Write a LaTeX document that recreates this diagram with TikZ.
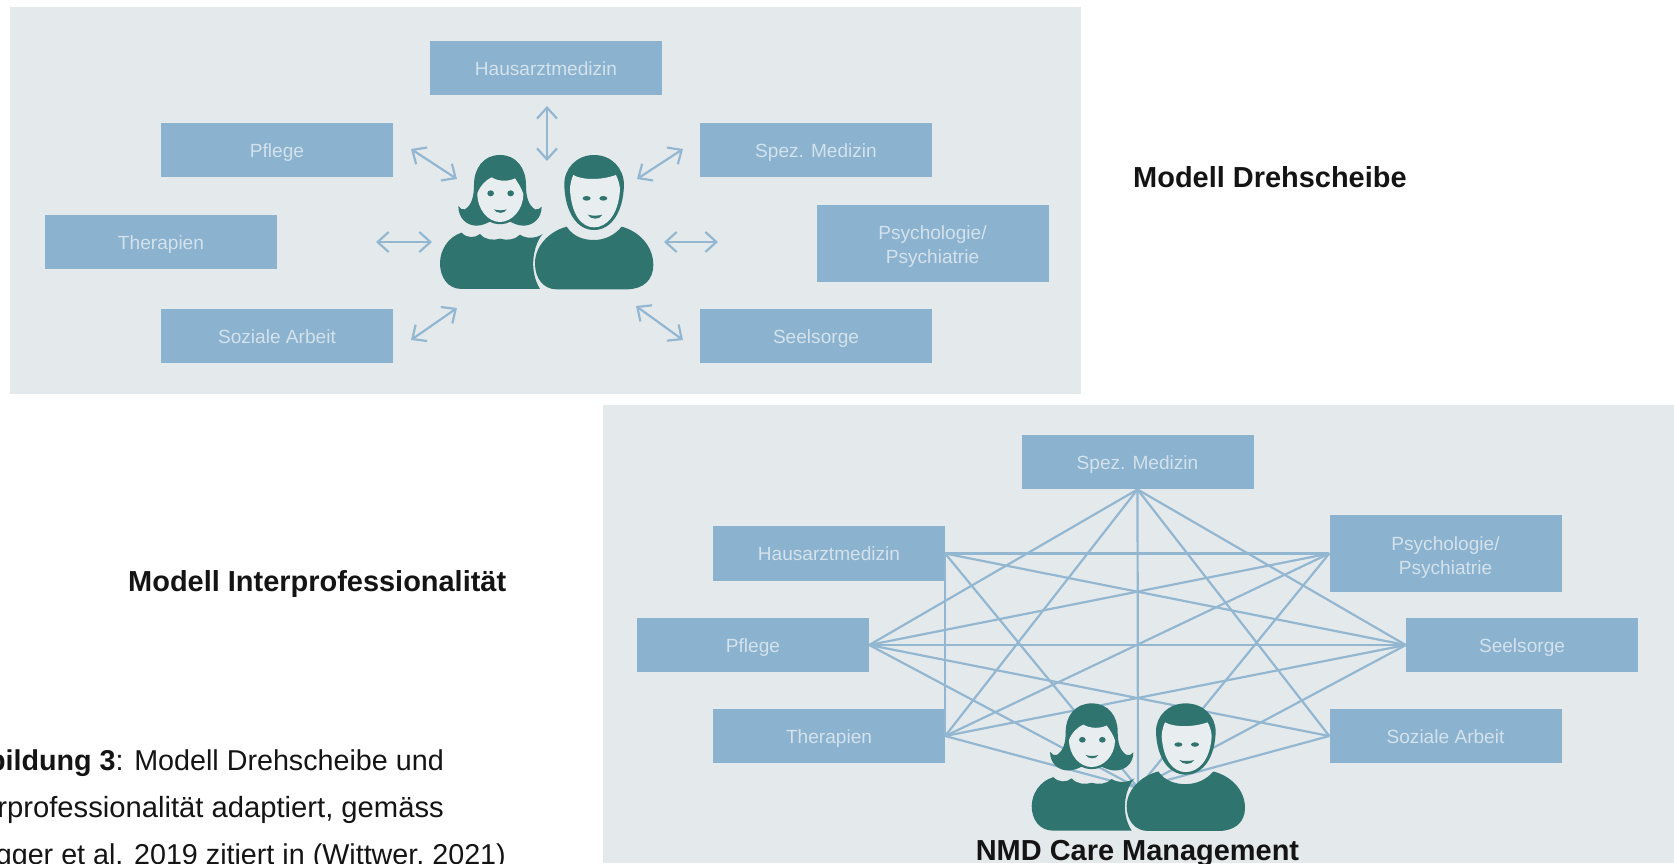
\documentclass[tikz,border=0pt]{standalone}
\usepackage{fontspec}
\setmainfont{Liberation Sans}
\usetikzlibrary{arrows.meta}
\definecolor{panelc}{HTML}{E4E9EC}
\definecolor{boxc}{HTML}{8BB2CE}
\definecolor{labelc}{HTML}{D3E2EC}
\definecolor{linec}{HTML}{93B7D1}
\definecolor{tealc}{HTML}{30746F}
\definecolor{facec}{HTML}{E8EDEF}
\definecolor{inkc}{HTML}{141414}
\tikzset{
  panel/.style={fill=panelc,draw=none},
  probox/.style={fill=boxc,draw=none,minimum width=232pt,minimum height=54.5pt,inner sep=0pt,align=center,text=labelc,font=\fontsize{19.1}{24}\selectfont},
  tallbox/.style={probox,minimum height=77pt},
  biarrow/.style={draw=linec,line width=2.2pt,{Straight Barb[length=11pt,width=20pt,line width=2.2pt]}-{Straight Barb[length=11pt,width=20pt,line width=2.2pt]}},
  netline/.style={draw=linec,line width=2.2pt},
  heading/.style={text=inkc,inner sep=0pt,anchor=base west,font=\fontsize{28.95}{34}\selectfont\bfseries},
  caption/.style={text=inkc,inner sep=0pt,anchor=base east,font=\fontsize{28.7}{34}\selectfont},
  figure/.style={fill=tealc,draw=none},
  skin/.style={fill=facec,draw=none}
}
\newcommand{\lift}{\rule{0pt}{18pt}}
\newcommand{\liftb}{\rule{0pt}{21pt}}
\newcommand{\drawcouple}[3]{%
\begin{scope}[shift={(#1,#2)},xscale=0.3333,yscale=#3]
  % woman
  \path[figure] (420,195) .. controls (370,195) and (342,235) .. (342,285) .. controls (342,320) and (335,345) .. (315,358) .. controls (308,361) and (300,356) .. (295,348) .. controls (295,385) and (320,407) .. (350,407) .. controls (365,407) and (380,400) .. (390,395) .. controls (405,405) and (435,405) .. (450,395) .. controls (460,400) and (475,407) .. (490,407) .. controls (520,407) and (545,385) .. (545,350) .. controls (540,356) and (532,361) .. (525,358) .. controls (505,345) and (498,320) .. (498,285) .. controls (498,235) and (470,195) .. (420,195) -- cycle;
  \path[skin] (352,310) .. controls (362,285) and (378,270) .. (395,262) .. controls (415,275) and (445,275) .. (465,265) .. controls (475,280) and (485,295) .. (490,312) .. controls (490,360) and (455,396) .. (420,396) .. controls (385,396) and (352,360) .. (352,310) -- cycle;
  \path[figure] (392,310) ellipse [x radius=10,y radius=9];
  \path[figure] (452,310) ellipse [x radius=10,y radius=9];
  \path[figure] (402,358) .. controls (412,362) and (430,362) .. (440,358) .. controls (435,372) and (408,372) .. (402,358) -- cycle;
  \path[figure] (305,428) .. controls (320,445) and (345,445) .. (360,432) .. controls (375,450) and (400,452) .. (420,446) .. controls (440,452) and (465,450) .. (480,434) .. controls (500,448) and (530,445) .. (548,432) .. controls (520,465) and (505,540) .. (540,597) -- (305,597) .. controls (262,597) and (240,560) .. (240,520) .. controls (240,480) and (265,440) .. (305,428) -- cycle;
  % man
  \path[figure] (702,195) .. controls (650,195) and (612,235) .. (613,285) .. controls (615,365) and (650,420) .. (702,420) .. controls (755,420) and (790,365) .. (792,285) .. controls (792,235) and (755,195) .. (702,195) -- cycle;
  \path[skin] (630,300) .. controls (630,285) and (634,268) .. (640,255) .. controls (665,270) and (720,272) .. (768,255) .. controls (775,270) and (780,285) .. (780,300) .. controls (775,375) and (740,412) .. (702,412) .. controls (665,412) and (635,375) .. (630,300) -- cycle;
  \path[figure] (680,325) ellipse [x radius=12,y radius=7];
  \path[figure] (730,325) ellipse [x radius=12,y radius=7];
  \path[figure] (683,374) .. controls (695,378) and (715,378) .. (727,374) .. controls (720,390) and (692,390) .. (683,374) -- cycle;
  \path[figure] (620,410) .. controls (640,440) and (670,450) .. (702,450) .. controls (735,450) and (765,435) .. (785,410) .. controls (840,425) and (880,470) .. (880,525) .. controls (880,570) and (850,598) .. (800,598) -- (590,598) .. controls (550,598) and (525,565) .. (525,520) .. controls (525,470) and (565,425) .. (620,410) -- cycle;
\end{scope}}
\begin{document}
\begin{tikzpicture}[x=1pt,y=-1pt]
\useasboundingbox (0,0) rectangle (1674,863);
\clip (0,0) rectangle (1674,863);
\fill[white] (0,0) rectangle (1674,863);
% panels
\path[panel] (10,7) rectangle (1081,394);
\path[panel] (603,405) rectangle (1674,863);
% upper model
\node[probox] (ah) at (546,68) {\lift\vphantom{g}Hausarztmedizin};
\node[probox] (apf) at (277,150) {\lift\vphantom{g}Pflege};
\node[probox] (asp) at (816,150) {\lift\vphantom{g}Spez. Medizin};
\node[probox] (ath) at (161,242) {\lift\vphantom{g}Therapien};
\node[tallbox] (apsy) at (932.5,243) {\liftb Psychologie/\\Psychiatrie};
\node[probox] (aso) at (277,336) {\lift\vphantom{g}Soziale Arbeit};
\node[probox] (ase) at (816,336) {\lift\vphantom{g}Seelsorge};
\coordinate (a1s) at (547,106); \coordinate (a1e) at (547,161);
\coordinate (a2s) at (411,149); \coordinate (a2e) at (457,179);
\coordinate (a3s) at (683,149); \coordinate (a3e) at (637,179);
\coordinate (a4s) at (376,242); \coordinate (a4e) at (432,242);
\coordinate (a5s) at (664,242); \coordinate (a5e) at (718,242);
\coordinate (a6s) at (411,340); \coordinate (a6e) at (457,308);
\coordinate (a7s) at (636,306); \coordinate (a7e) at (683,340);
\foreach \i in {1,...,7} {\draw[biarrow] (a\i s) -- (a\i e);}
\drawcouple{360}{90}{0.3333}
\node[heading] (t1) at (1133,187) {Modell Drehscheibe};
% lower model
\node[probox] (bsp) at (1137.5,462) {\lift\vphantom{g}Spez. Medizin};
\node[probox] (bh) at (829,553.5) {\lift\vphantom{g}Hausarztmedizin};
\node[tallbox] (bpsy) at (1445.5,553.5) {\liftb Psychologie/\\Psychiatrie};
\node[probox] (bpf) at (753,645) {\lift\vphantom{g}Pflege};
\node[probox] (bse) at (1522,645) {\lift\vphantom{g}Seelsorge};
\node[probox] (bth) at (829,736) {\lift\vphantom{g}Therapien};
\node[probox] (bso) at (1445.5,736) {\lift\vphantom{g}Soziale Arbeit};
\coordinate (hub) at (1138,788);
\foreach \a/\b in {bsp.south/bpf.east,bsp.south/bth.east,bsp.south/bse.west,bsp.south/bso.west,bsp.south/hub,
  bh.east/bpsy.west,bh.east/bse.west,bh.east/hub,bh.east/bth.east,
  bpf.east/bpsy.west,bpf.east/bse.west,bpf.east/bso.west,bpf.east/hub,
  bth.east/bpsy.west,bth.east/bse.west,bth.east/hub,
  bpsy.west/hub,bse.west/hub,bso.west/hub}
  {\draw[netline] (\a) -- (\b);}
\drawcouple{951.7}{641.6}{0.3167}
\node[heading,anchor=base] (t3) at (1137.5,860) {NMD Care Management};
\node[heading] (t2) at (128,591) {Modell Interprofessionalität};
% caption
\node[caption] (c1) at (444,770) {\textbf{bildung 3}: Modell Drehscheibe und};
\node[caption,font=\fontsize{29.2}{34}\selectfont] (c2) at (444,817) {rprofessionalität adaptiert, gemäss};
\node[caption] (c3) at (506,864) {gger et al. 2019 zitiert in (Wittwer, 2021)};
\end{tikzpicture}
\end{document}
